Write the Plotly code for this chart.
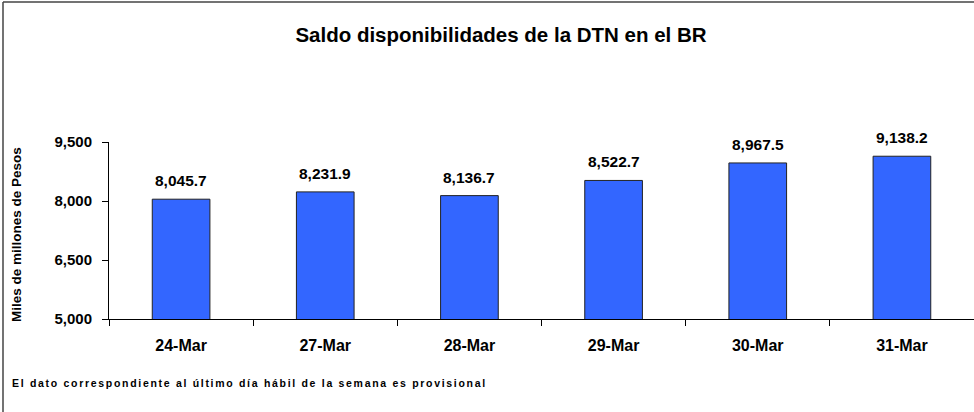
import plotly.graph_objects as go

categories = ["24-Mar", "27-Mar", "28-Mar", "29-Mar", "30-Mar", "31-Mar"]
values = [8045.7, 8231.9, 8136.7, 8522.7, 8967.5, 9138.2]
y_ticks = [5000, 6500, 8000, 9500]
y_tick_labels = ["5,000", "6,500", "8,000", "9,500"]

W, H = 974, 412
ML, MR, MT, MB = 109, 0, 142, 93
PW, PH = W - ML - MR, H - MT - MB

def px_x(p):
    return (p - ML) / PW

def px_y(p):
    return (H - MB - p) / PH

FONT = "Liberation Sans, Arial, sans-serif"

fig = go.Figure(go.Bar(
    x=categories, y=values, width=0.4,
    marker=dict(color="#3366FF", line=dict(color="#222222", width=1)),
    hoverinfo="skip",
))

for c, v in zip(categories, values):
    fig.add_annotation(x=c, y=v, text=f"<b>{v:,.1f}</b>", showarrow=False,
                       yanchor="bottom", yshift=8,
                       font=dict(family=FONT, size=15.5, color="black"))

fig.add_annotation(xref="paper", yref="paper", x=px_x(10), y=px_y(383),
                   xanchor="left", yanchor="middle", showarrow=False,
                   text="<span style=\"letter-spacing:1.7px\"><b>El dato correspondiente al último día hábil de la semana es provisional</b></span>",
                   font=dict(family=FONT, size=10.5, color="black"))

fig.add_annotation(xref="paper", yref="paper", x=px_x(16), y=px_y(235),
                   xanchor="center", yanchor="middle", showarrow=False, textangle=-90,
                   text="<b>Miles de millones de Pesos</b>",
                   font=dict(family=FONT, size=13.5, color="black"))

# outer frame (left and top edges)
fig.add_shape(type="line", xref="paper", yref="paper", x0=px_x(3), x1=px_x(3),
              y0=px_y(2), y1=px_y(412), line=dict(color="#444444", width=1.5))
fig.add_shape(type="line", xref="paper", yref="paper", x0=px_x(3), x1=px_x(974),
              y0=px_y(2), y1=px_y(2), line=dict(color="#444444", width=1.5))

fig.update_layout(
    width=W, height=H,
    margin=dict(l=ML, r=MR, t=MT, b=MB),
    paper_bgcolor="white", plot_bgcolor="white",
    showlegend=False,
    title=dict(text="<b>Saldo disponibilidades de la DTN en el BR</b>",
               x=501 / W, xanchor="center",
               y=1 - 35 / H, yanchor="middle",
               font=dict(family=FONT, size=20.5, color="black")),
    xaxis=dict(range=[-0.5, 5.5], showline=True, linecolor="black", linewidth=1,
               ticks="outside", tickson="boundaries", ticklen=6, tickcolor="black",
               ticklabelstandoff=12,
               showgrid=False, fixedrange=True,
               tickfont=dict(family=FONT, size=16, color="black"),
               tickprefix="<b>", ticksuffix="</b>"),
    yaxis=dict(range=[5000, 9500], tickvals=y_ticks, ticktext=[f"<b>{t}</b>" for t in y_tick_labels],
               showline=True, linecolor="black", linewidth=1,
               ticks="outside", ticklen=6, tickcolor="black", showgrid=False, zeroline=False,
               ticklabelstandoff=7,
               tickfont=dict(family=FONT, size=15, color="black")),
)

fig.write_html("out.html")
